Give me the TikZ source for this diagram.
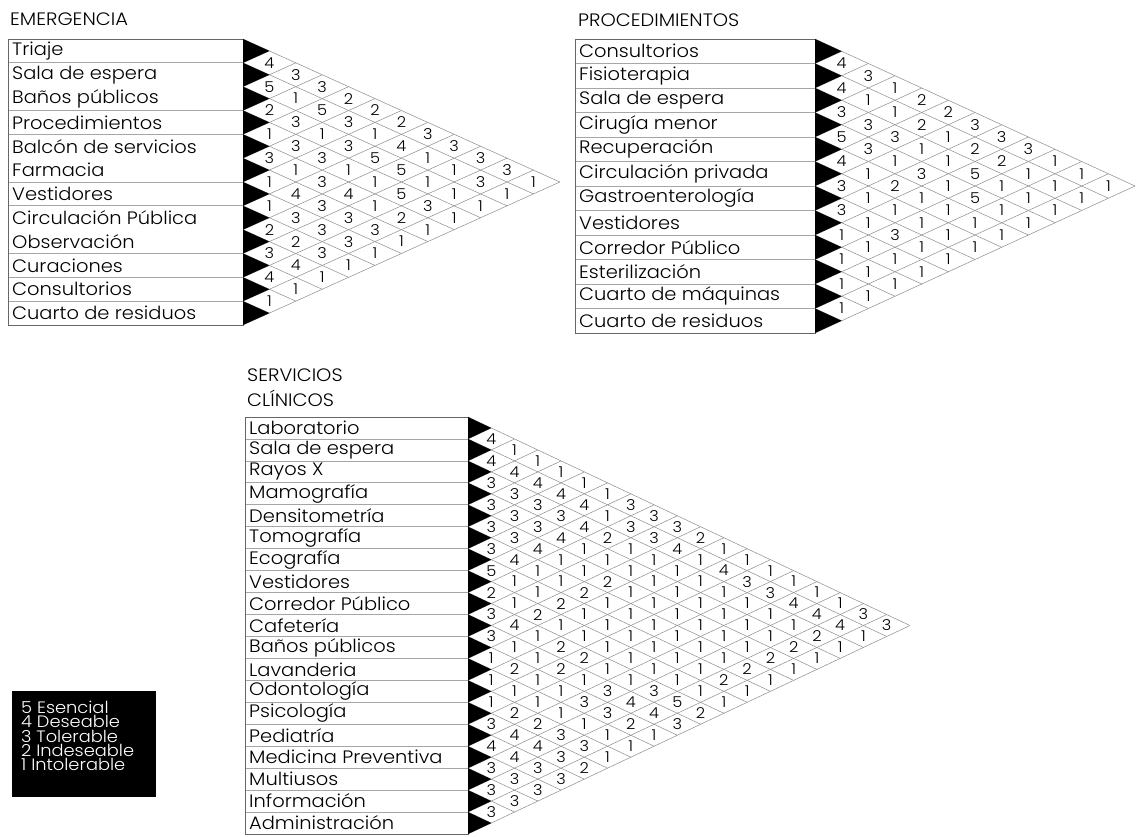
\documentclass[tikz,border=0pt]{standalone}
\usepackage{fontspec}
\setmainfont{Poppins Light}[FakeStretch=1.08]

% Relationship chart: label box on the left, triangular lattice of
% diamonds on the right, one value per pair of rows.
% Needs \xL \xR \yT \yB \nr \sx \seps \labels \values defined beforehand.
\newcommand\drawchart[1]{%
  \pgfmathsetmacro\hh{(\yB-\yT)/\nr}%
  \pgfmathtruncatemacro\nrm{\nr-1}%
  % lattice lines
  \foreach \r in {0,...,\nrm}
    {\draw[gridline] (\xR,{\yT+\r*\hh}) -- ({\xR+(\nr-\r)*\sx},{\yT+(\nr+\r)*\hh/2});}
  \foreach \r in {1,...,\nr}
    {\draw[gridline] (\xR,{\yT+\r*\hh}) -- ({\xR+\r*\sx},{\yT+\r*\hh/2});}
  % label box and row separators
  \foreach \r in \seps
    {\draw[sepline] (\xL,{\yT+\r*\hh}) -- (\xR,{\yT+\r*\hh});}
  \draw[boxline] (\xL,\yT) rectangle (\xR,\yB);
  % black row markers
  \foreach \r in {0,...,\nrm}
    {\fill (\xR,{\yT+\r*\hh}) -- ({\xR+\sx},{\yT+(\r+0.5)*\hh}) -- (\xR,{\yT+(\r+1)*\hh}) -- cycle;}
  % row labels
  \foreach \lab [count=\r from 0] in \labels
    {\node[lab] (#1-l\r) at ({\xL+4},{\yT+(\r+0.5)*\hh}) {\lab};}
  % pair values
  \foreach \rowv [count=\i from 0] in \values {
    \foreach \v [count=\d] in \rowv
      {\node[val] (#1-\i-\d) at ({\xR+\d*\sx},{\yT+(2*\i+\d+1)*\hh/2}) {\v};}
  }%
}

\begin{document}
\begin{tikzpicture}[x=1pt,y=-1pt,
  gridline/.style={draw=black!45, line width=0.5pt},
  boxline/.style={draw=black!60, line width=0.8pt},
  sepline/.style={draw=black!35, line width=0.7pt},
  lab/.style={anchor=west, inner sep=0pt, font=\fontsize{18}{18}\selectfont},
  val/.style={inner sep=0pt, font=\fontsize{15}{15}\selectfont},
  ttl/.style={anchor=west, inner sep=0pt, font=\fontsize{18}{18}\selectfont},
]
\useasboundingbox[fill=white] (0,0) rectangle (1136,836);

% ---------------- EMERGENCIA ----------------
\node[ttl] (t-em) at (10,19) {EMERGENCIA};
\def\xL{8}\def\xR{243}\def\yT{39}\def\yB{325}\def\nr{12}\def\sx{26.4}
\def\seps{1,3,4,6,7,9,10,11}
\def\labels{Triaje, Sala de espera, Baños públicos, Procedimientos,
  Balcón de servicios, Farmacia, Vestidores, Circulación Pública,
  Observación, Curaciones, Consultorios, Cuarto de residuos}
\def\values{{4,3,3,2,2,2,3,3,3,3,1},{5,1,5,3,1,4,1,1,3,1},{2,3,1,3,5,5,1,1,1},
  {1,3,3,1,1,5,3,1},{3,1,3,4,1,2,1},{1,4,3,3,3,1},{1,3,3,3,1},{2,2,3,1},
  {3,4,1},{4,1},{1}}
\drawchart{em}

% ---------------- PROCEDIMIENTOS ----------------
\node[ttl] (t-pr) at (578,20) {PROCEDIMIENTOS};
\def\xL{575}\def\xR{815}\def\yT{39}\def\yB{333}\def\nr{12}\def\sx{26.67}
\def\seps{1,...,11}
\def\labels{Consultorios, Fisioterapia, Sala de espera, Cirugía menor,
  Recuperación, Circulación privada, Gastroenterología, Vestidores,
  Corredor Público, Esterilización, Cuarto de máquinas, Cuarto de residuos}
\def\values{{4,3,1,2,2,3,3,3,1,1,1},{4,1,1,2,1,2,2,1,1,1},{3,3,3,1,1,5,1,1,1},
  {5,3,1,3,1,5,1,1},{4,1,2,1,1,1,1},{3,1,1,1,1,1},{3,1,3,1,1},{1,1,1,1},
  {1,1,1},{1,1},{1}}
\drawchart{pr}

% ---------------- SERVICIOS CLÍNICOS ----------------
\node[ttl] (t-sc1) at (247,375) {SERVICIOS};
\node[ttl] (t-sc2) at (247,398) {CLÍNICOS};
\def\xL{245}\def\xR{468}\def\yT{417}\def\yB{834}\def\nr{19}\def\sx{23.26}
\def\seps{1,...,18}
\def\labels{Laboratorio, Sala de espera, Rayos X, Mamografía, Densitometría,
  Tomografía, Ecografía, Vestidores, Corredor Público, Cafetería,
  Baños públicos, Lavanderia, Odontología, Psicología, Pediatría,
  Medicina Preventiva, Multiusos, Información, Administración}
\def\values{{4,1,1,1,1,1,3,3,3,2,1,1,1,1,1,1,3,3},
  {4,4,4,4,4,1,3,3,4,1,4,3,3,4,4,4,1},
  {3,3,3,3,4,2,1,1,1,1,1,1,1,1,2,1},
  {3,3,3,4,1,1,1,1,1,1,1,1,1,2,1},
  {3,3,4,1,1,2,1,1,1,1,1,1,2,1},
  {3,4,1,1,2,1,1,1,1,1,1,2,1},
  {5,1,1,2,1,1,1,1,1,1,2,1},
  {2,1,2,1,1,1,1,1,1,1,1},
  {3,4,1,2,2,1,1,3,5,2},
  {3,1,1,2,1,3,4,4,3},
  {1,2,1,1,3,3,2,1},
  {1,1,1,1,1,1,1},
  {1,2,2,3,3,1},
  {3,4,4,3,2},
  {4,4,3,3},
  {3,3,3},
  {3,3},
  {3}}
\drawchart{sc}

% ---------------- Legend ----------------
\fill[black] (12,691) rectangle (156,797);
\node[anchor=north west, inner sep=0pt, align=left, text=white,
      font=\fontsize{16.5}{14.3}\selectfont] (legend) at (21,701)
  {5 Esencial\\4 Deseable\\3 Tolerable\\2 Indeseable\\1 Intolerable};
\end{tikzpicture}
\end{document}
